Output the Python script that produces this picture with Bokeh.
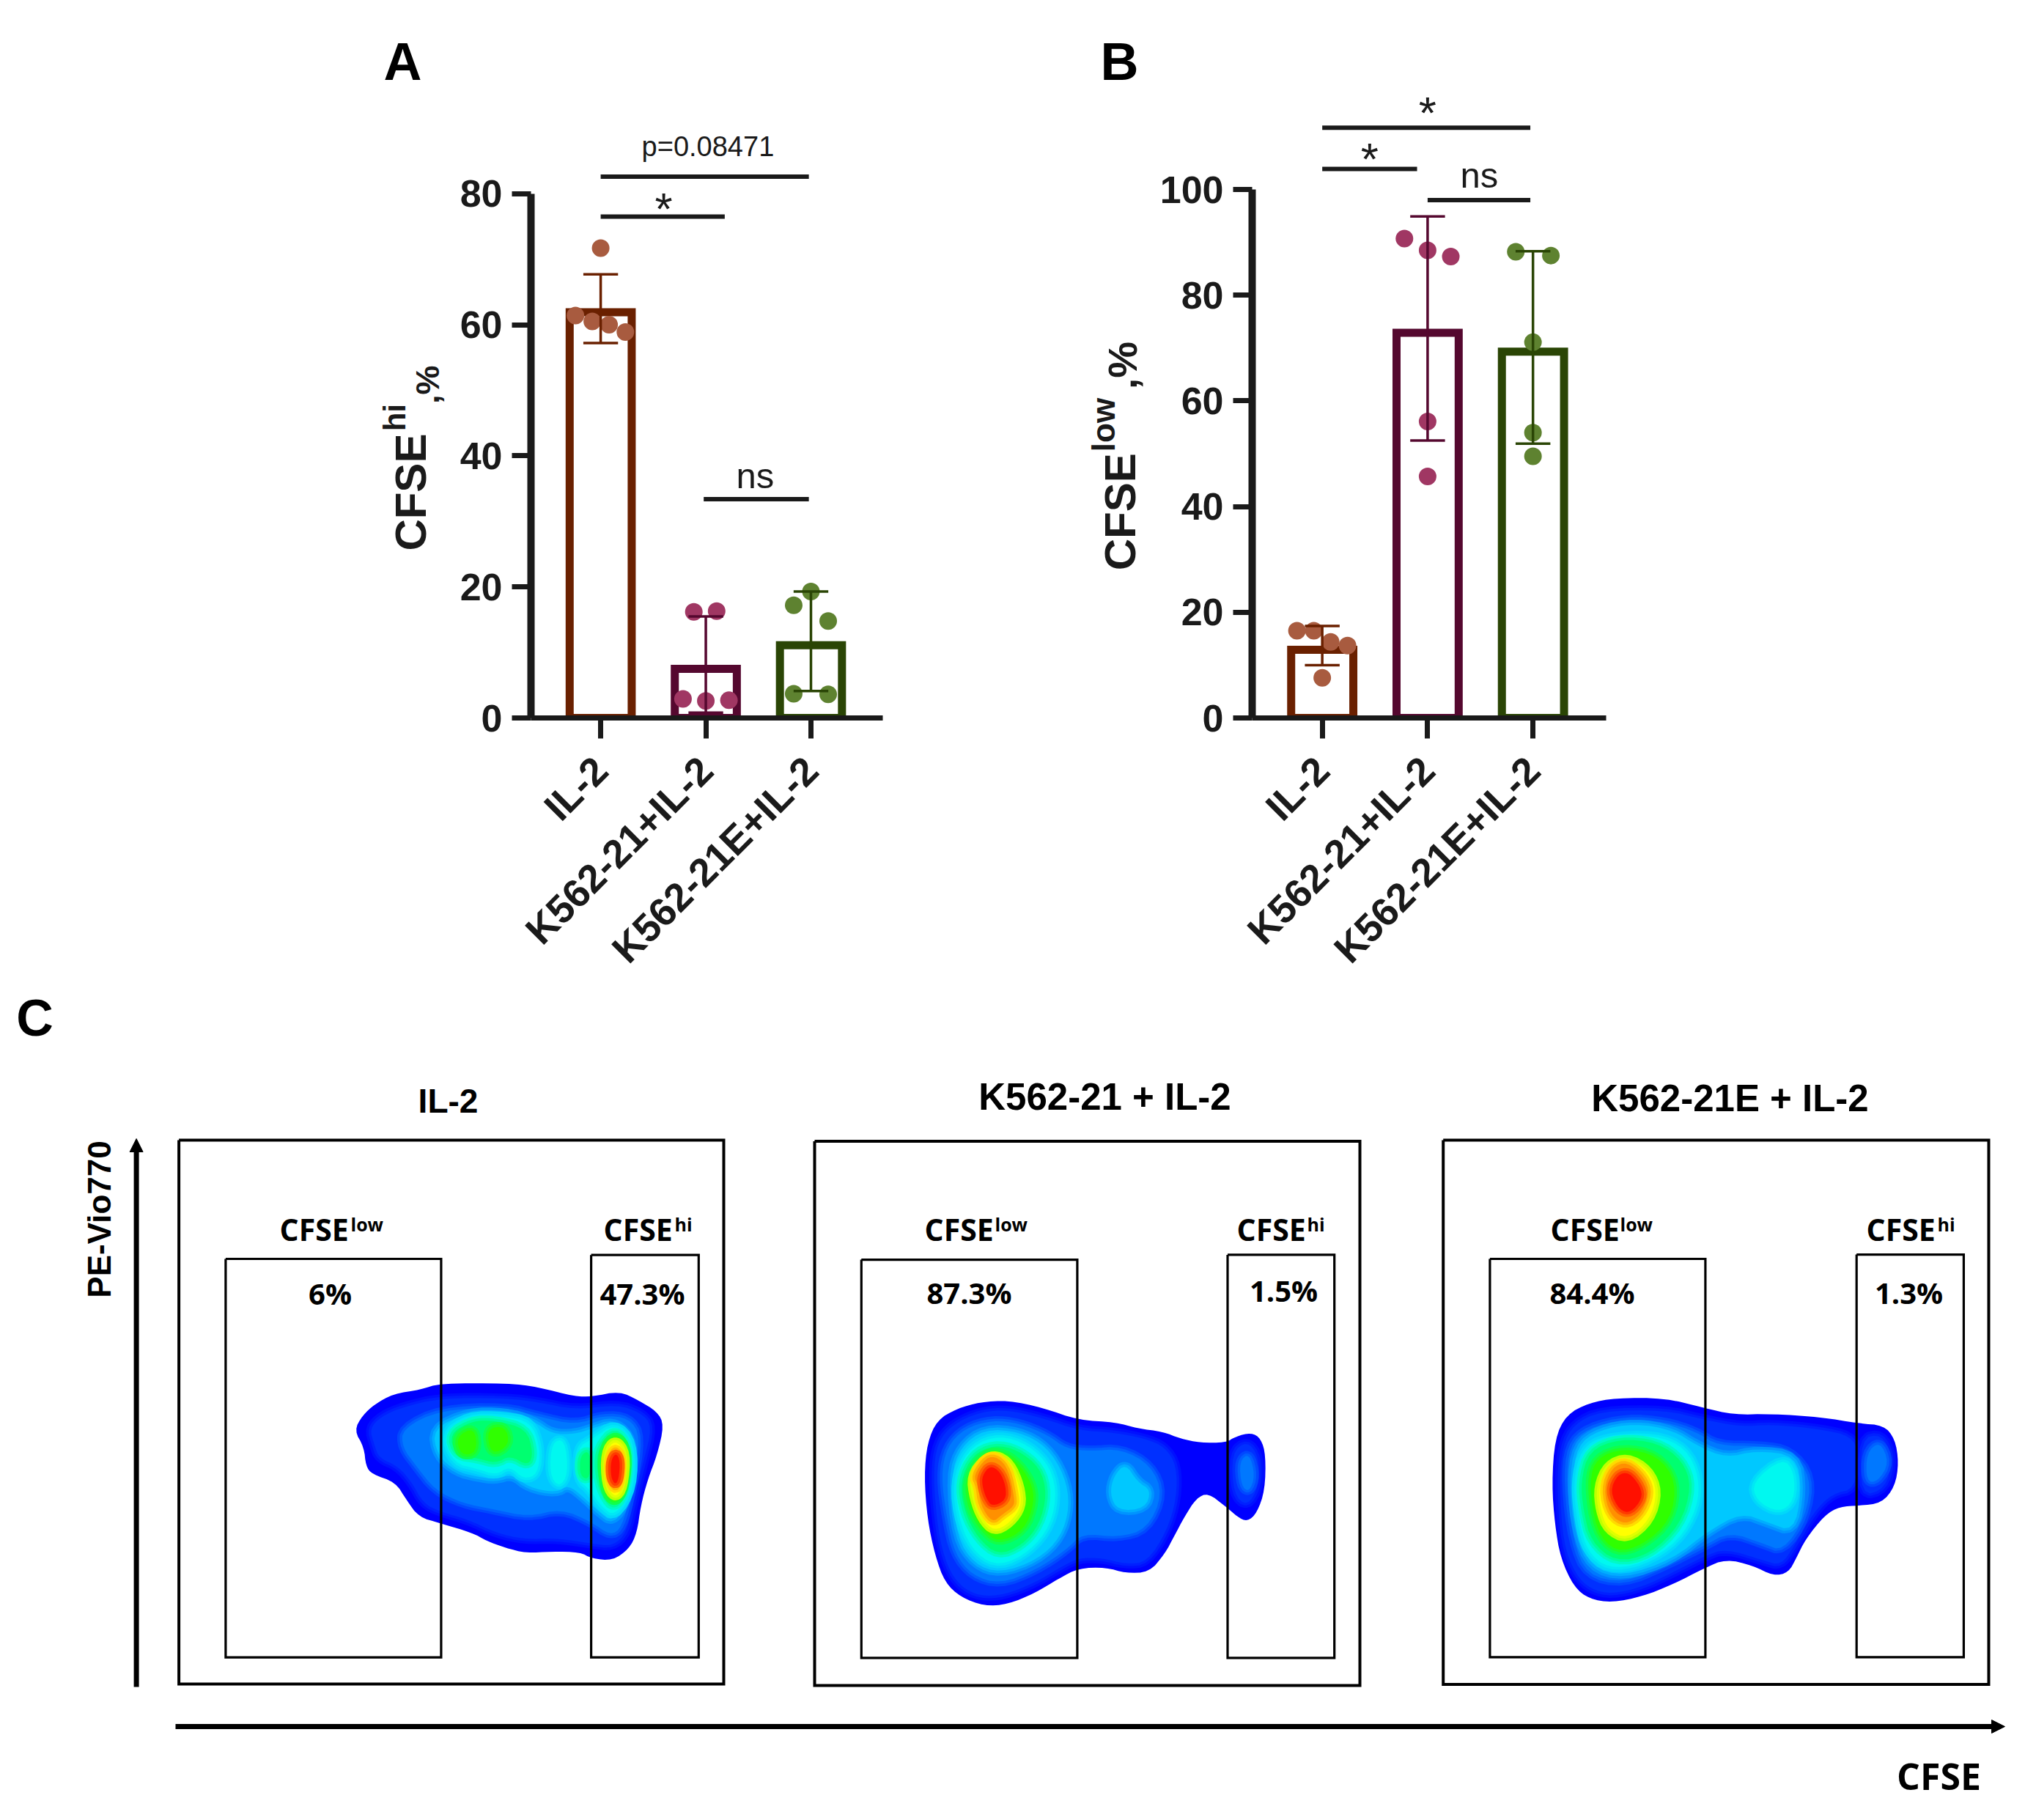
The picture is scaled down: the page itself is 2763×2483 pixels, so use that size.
from math import pi
from bokeh.plotting import figure
from bokeh.layouts import column, row
from bokeh.core.properties import value
from bokeh.models import Range1d, FixedTicker, Arrow, NormalHead
from bokeh.embed import file_html
from bokeh.resources import INLINE

# ---------- chart data ----------
GROUPS = ["IL-2", "K562-21+IL-2", "K562-21E+IL-2"]

A_MEAN = [61.9, 7.5, 11.1]
A_HIGH = [67.7, 15.5, 19.3]
A_LOW = [57.2, 0.8, 4.1]
A_DOT_GROUP = [1, 1, 1, 1, 1, 2, 2, 2, 2, 2, 3, 3, 3, 3, 3]
A_DOT_SHIFT = [0, -0.24, -0.08, 0.08, 0.235, -0.114, 0.103, -0.217, 0, 0.22, 0, -0.164, 0.164, -0.164, 0.164]
A_DOT_VALUE = [71.7, 61.4, 60.5, 60.0, 58.9, 16.2, 16.3, 2.9, 2.6, 2.7, 19.3, 17.2, 14.8, 3.7, 3.6]

B_MEAN = [12.9, 72.9, 69.3]
B_HIGH = [17.4, 94.9, 88.3]
B_LOW = [10.0, 52.5, 51.9]
B_DOT_GROUP = [1, 1, 1, 1, 1, 2, 2, 2, 2, 2, 3, 3, 3, 3, 3]
B_DOT_SHIFT = [-0.24, -0.08, 0.08, 0.24, 0, -0.22, 0, 0.22, 0, 0, -0.163, 0.17, 0, 0, 0]
B_DOT_VALUE = [16.5, 16.5, 14.4, 13.7, 7.6, 90.7, 88.5, 87.3, 56.1, 45.7, 88.2, 87.5, 71.1, 54.0, 49.5]

A_TICKS = [0, 20, 40, 60, 80]
B_TICKS = [0, 20, 40, 60, 80, 100]

A_BRACKETS = [(1, 2.98, 82.6), (1, 2.18, 76.5), (1.98, 2.98, 33.4)]
B_BRACKETS = [(1, 2.975, 111.7), (1, 1.9, 103.9), (2.0, 2.975, 98.0)]

# density contours of the flow plots: (density level, outline)
P1_CONTOURS = [
    (0, [(757,838),(775,810),(800,790),(840,770),(900,762),(940,750),(1085,750),(1150,757),(1230,775),(1265,775),(1325,765),(1365,782),(1405,803),(1420,828),(1405,885),(1385,930),(1370,980),(1362,1030),(1345,1060),(1310,1082),(1265,1078),(1240,1066),(1180,1065),(1125,1068),(1080,1058),(1040,1045),(1010,1030),(940,1012),(895,1000),(870,970),(845,935),(795,920),(782,905),(778,870)]),
    (1, [(790,835),(815,812),(860,795),(940,778),(1080,778),(1150,785),(1230,800),(1320,790),(1370,805),(1395,830),(1375,900),(1355,970),(1340,1030),(1310,1055),(1265,1050),(1190,1040),(1120,1042),(1060,1030),(1000,1005),(940,990),(905,975),(880,935),(850,905),(810,890),(800,865)]),
    (2, [(860,835),(940,800),(1080,795),(1150,812),(1230,828),(1290,810),(1345,815),(1370,850),(1350,950),(1330,1020),(1305,1035),(1265,1010),(1200,985),(1130,1000),(1050,985),(990,975),(930,950),(890,905),(860,870)]),
    (3, [(925,835),(1000,805),(1080,805),(1140,820),(1180,845),(1230,845),(1265,835),(1310,822),(1345,845),(1355,890),(1340,970),(1310,1010),(1280,990),(1250,965),(1215,940),(1190,955),(1130,945),(1095,920),(1060,930),(1020,925),(975,915),(935,885)]),
    (4, [(945,845),(1000,812),(1075,812),(1135,822),(1155,870),(1150,920),(1120,930),(1090,905),(1060,922),(1020,910),(970,900)]),
    (4, [(1180,860),(1208,855),(1215,920),(1195,945),(1175,920)]),
    (4, [(1235,870),(1265,855),(1315,825),(1352,860),(1352,945),(1315,1000),(1285,980),(1262,950),(1235,930)]),
    (5, [(960,845),(1010,820),(1060,820),(1125,835),(1140,880),(1130,905),(1090,885),(1060,900),(1020,890),(975,885)]),
    (5, [(1240,885),(1262,875),(1262,930),(1240,925)]),
    (5, [(1280,870),(1315,835),(1345,870),(1340,945),(1315,985),(1290,960),(1275,910)]),
    (6, [(975,850),(1015,832),(1020,880),(985,885)]),
    (6, [(1040,835),(1080,830),(1090,865),(1050,885)]),
    (6, [(1288,875),(1316,845),(1342,875),(1336,945),(1315,975),(1292,950)]),
    (8, [(1295,880),(1315,855),(1338,880),(1332,945),(1315,965),(1297,940)]),
    (9, [(1302,890),(1316,870),(1330,890),(1326,935),(1315,950),(1303,930)]),
    (10, [(1306,895),(1317,880),(1326,895),(1323,930),(1315,940),(1306,925)]),
]
P2_CONTOURS = [
    (0, [(337,985),(345,905),(370,850),(420,822),(480,806),(550,802),(640,820),(730,850),(825,855),(880,870),(945,878),(990,895),(1040,905),(1105,905),(1130,890),(1170,880),(1195,895),(1207,935),(1205,1020),(1185,1075),(1160,1097),(1135,1085),(1105,1060),(1060,1027),(1030,1040),(1000,1085),(975,1130),(950,1175),(910,1220),(850,1222),(800,1208),(730,1210),(680,1235),(620,1270),(550,1298),(490,1302),(430,1280),(390,1245),(365,1180),(345,1090)]),
    (1, [(360,985),(370,905),(410,860),(480,830),(550,825),(640,845),(730,875),(820,880),(900,895),(950,915),(980,960),(980,1040),(955,1120),(905,1195),(850,1200),(790,1185),(730,1185),(680,1210),(620,1245),(540,1275),(480,1278),(430,1255),(395,1205),(372,1120)]),
    (1, [(1120,930),(1160,900),(1190,940),(1190,1010),(1160,1060),(1125,1030)]),
    (2, [(380,985),(395,915),(440,870),(510,850),(580,858),(650,885),(700,920),(760,925),(840,920),(915,960),(945,1030),(905,1115),(830,1135),(740,1125),(700,1165),(620,1215),(530,1248),(460,1228),(415,1175),(395,1090)]),
    (2, [(1140,950),(1165,930),(1180,985),(1165,1025),(1145,1010)]),
    (3, [(405,985),(430,915),(490,872),(580,878),(650,915),(695,985),(708,1060),(685,1135),(625,1190),(530,1222),(465,1200),(420,1135)]),
    (3, [(820,985),(850,955),(880,1000),(915,1020),(900,1065),(830,1070),(810,1030)]),
    (4, [(415,1000),(445,925),(510,888),(585,900),(650,950),(675,1020),(660,1105),(605,1170),(530,1205),(470,1178),(428,1105)]),
    (5, [(428,1000),(460,935),(515,910),(575,922),(632,965),(650,1030),(630,1105),(585,1155),(525,1178),(475,1138),(440,1075)]),
    (6, [(445,1000),(478,945),(515,925),(568,945),(610,1000),(618,1050),(592,1118),(525,1148),(485,1115),(455,1065)]),
    (8, [(458,985),(490,945),(520,935),(555,955),(580,1010),(585,1060),(555,1100),(515,1120),(485,1090),(465,1040)]),
    (9, [(462,985),(495,940),(525,940),(552,970),(567,1040),(565,1060),(535,1080),(510,1100),(480,1055),(475,1010)]),
    (10, [(485,985),(505,960),(530,975),(545,1010),(545,1045),(510,1060),(495,1040),(485,1010)]),
]
P3_CONTOURS = [
    (0, [(322,865),(330,770),(360,720),(420,695),(490,685),(620,685),(720,705),(800,720),(900,718),(1030,725),(1130,738),(1195,742),(1225,770),(1235,820),(1225,870),(1190,905),(1130,910),(1080,912),(1040,930),(990,980),(965,1020),(945,1050),(905,1057),(850,1035),(780,1022),(725,1040),(640,1075),(560,1100),(480,1113),(420,1105),(380,1080),(345,1020),(330,950)]),
    (1, [(342,865),(350,785),(380,740),(450,712),(620,710),(720,730),(820,745),(900,740),(1030,750),(1110,765),(1130,800),(1120,875),(1060,885),(1010,925),(960,995),(925,1035),(880,1025),(780,1000),(725,1015),(640,1050),(560,1080),(480,1095),(425,1085),(385,1055),(352,990)]),
    (1, [(1135,770),(1190,760),(1220,810),(1200,875),(1135,890)]),
    (2, [(360,865),(368,785),(415,748),(520,728),(620,735),(700,755),(760,785),(870,785),(950,795),(1005,850),(990,935),(930,1005),(880,990),(790,965),(720,995),(620,1035),(510,1072),(415,1055),(378,985)]),
    (2, [(1150,800),(1185,775),(1210,820),(1180,860),(1150,860)]),
    (3, [(375,865),(388,785),(445,752),(540,738),(640,752),(705,785),(780,810),(860,795),(965,805),(980,880),(958,965),(890,945),(820,925),(730,965),(640,1022),(510,1058),(425,1038),(388,965)]),
    (4, [(385,860),(405,795),(460,768),(595,762),(675,790),(710,850),(705,915),(655,985),(560,1032),(470,1042),(415,1005),(395,945)]),
    (4, [(850,860),(930,810),(960,840),(960,900),(920,925),(860,900)]),
    (5, [(398,860),(420,795),(500,770),(600,778),(665,815),(690,870),(660,950),(580,1012),(490,1028),(425,985),(405,920)]),
    (6, [(420,860),(440,810),(510,790),(600,805),(650,860),(635,940),(562,992),(490,1008),(438,962)]),
    (8, [(445,870),(470,825),(520,810),(575,835),(600,880),(580,940),(520,980),(470,960),(450,920)]),
    (9, [(458,875),(480,830),(520,818),(565,850),(580,885),(555,930),(515,950),(475,930)]),
    (10, [(475,880),(495,845),(525,840),(555,870),(560,895),(530,925),(500,920)]),
]
LEVEL_COLOURS = ["#0000ff", "#0030ff", "#0078ff", "#00c8ff", "#00f8f0", "#00ff70",
                 "#30ff00", "#a0ff00", "#ffff00", "#ff9000", "#ff1000"]

# ---------- styles ----------
SANS = "Liberation Sans"
OPEN = "Open Sans"
INK = "#1a1a1a"
BAR_COLOURS = ["#6a2000", "#55082f", "#2a4505"]
DOT_COLOURS = ["#a85b3f", "#a03763", "#5e8230"]
MID = 0.35  # height of the text-box middle above the baseline, in font sizes


def lab(p, x, y, s, size, font=SANS, style="bold", color=INK, align="left", angle=0, upp=-1.0):
    """x, y: text anchor on the baseline; upp: pixels per data unit of y (negative when y runs down)."""
    if angle:
        x = x - MID * size
        align = "center"
    else:
        y = y + MID * size / upp
    p.text(x=[x], y=[y], text=[s], text_font=value(font), text_font_size=f"{size}px",
           text_font_style=style, text_color=color, text_align=align, text_baseline="middle", angle=angle)


def blank(width, height, xr, yr):
    p = figure(width=width, height=height, output_backend="svg", toolbar_location=None,
               x_range=Range1d(*xr), y_range=Range1d(*yr), min_border=0,
               x_axis_location=None, y_axis_location=None)
    p.grid.visible = False
    p.outline_line_color = None
    p.background_fill_color = "white"
    p.border_fill_color = "white"
    return p


def bar_chart(width, height, left, right, top, bottom, xr, yr, ticks, mean, high, low,
              dgroup, dshift, dvalue, brackets):
    p = figure(width=width, height=height, output_backend="svg", toolbar_location=None,
               x_range=Range1d(*xr), y_range=Range1d(*yr),
               min_border_left=left, min_border_right=right, min_border_top=top, min_border_bottom=bottom)
    p.grid.visible = False
    p.outline_line_color = None
    p.background_fill_color = "white"
    p.border_fill_color = "white"
    xs = [1, 2, 3]
    p.vbar(x=xs, top=mean, bottom=0, width=0.59, fill_color="white", line_color=BAR_COLOURS, line_width=11,
           line_join="miter")
    dot_x = [g + s for g, s in zip(dgroup, dshift)]
    p.scatter(dot_x, dvalue, size=24, color=[DOT_COLOURS[g - 1] for g in dgroup], line_color=None)
    p.segment(xs, low, xs, high, color=BAR_COLOURS, line_width=3.5)
    for xv, lo, hi, c in zip(xs, low, high, BAR_COLOURS):
        p.segment([xv - 0.165, xv - 0.165], [lo, hi], [xv + 0.165, xv + 0.165], [lo, hi], color=c, line_width=3.5)
    for b in brackets:
        p.line([b[0], b[1]], [b[2], b[2]], color=INK, line_width=6, line_cap="butt")

    ax = p.yaxis[0]
    ax.ticker = FixedTicker(ticks=ticks)
    ax.bounds = (ticks[0], ticks[-1])
    ax.axis_line_color = INK
    ax.axis_line_width = 10
    ax.major_tick_line_color = INK
    ax.major_tick_line_width = 7
    ax.major_tick_in = 0
    ax.major_tick_out = 26
    ax.minor_tick_line_color = None
    ax.major_label_text_font = SANS
    ax.major_label_text_font_style = "bold"
    ax.major_label_text_font_size = "52px"
    ax.major_label_text_color = INK
    ax.major_label_standoff = 13

    ax = p.xaxis[0]
    ax.ticker = FixedTicker(ticks=xs)
    ax.major_label_overrides = {i + 1: g for i, g in enumerate(GROUPS)}
    ax.bounds = (xr[0], xr[1])
    ax.axis_line_color = INK
    ax.axis_line_width = 7
    ax.major_tick_line_color = INK
    ax.major_tick_line_width = 7
    ax.major_tick_in = 0
    ax.major_tick_out = 28
    ax.minor_tick_line_color = None
    ax.major_label_orientation = pi / 4
    ax.major_label_text_font = SANS
    ax.major_label_text_font_style = "bold"
    ax.major_label_text_font_size = "54px"
    ax.major_label_text_color = INK
    ax.major_label_standoff = 34
    return p


# page positions
ROW_H = 1350
L1_W, A_W, L2_W, B_W = 620, 820, 130, 1185
AX, AR, A0, A80 = 724.0, 1203.5, 980.0, 264.0
BX, BR, B0, B100 = 1708.0, 2190.8, 979.0, 258.0
FRAME_TOP = 30.0
apx = (A0 - A80) / 80
bpx = (B0 - B100) / 100
a_unit = 143.3
b_unit = 143.7
A_LEFT = L1_W
B_LEFT = L1_W + A_W + L2_W

pa = bar_chart(A_W, ROW_H, round(AX - A_LEFT), round(A_LEFT + A_W - AR), int(FRAME_TOP), round(ROW_H - A0),
               (1 - (819 - AX) / a_unit, 1 + (AR - 819) / a_unit), (0, (A0 - FRAME_TOP) / apx), A_TICKS,
               A_MEAN, A_HIGH, A_LOW, A_DOT_GROUP, A_DOT_SHIFT, A_DOT_VALUE, A_BRACKETS)
pb = bar_chart(B_W, ROW_H, round(BX - B_LEFT), round(B_LEFT + B_W - BR), int(FRAME_TOP), round(ROW_H - B0),
               (1 - (1803.6 - BX) / b_unit, 1 + (BR - 1803.6) / b_unit), (0, (B0 - FRAME_TOP) / bpx), B_TICKS,
               B_MEAN, B_HIGH, B_LOW, B_DOT_GROUP, B_DOT_SHIFT, B_DOT_VALUE, B_BRACKETS)

lab(pa, 2.02, 85.7, "p=0.08471", 38, style="normal", align="center", upp=apx)
lab(pa, 1.6, 75.3, "*", 62, style="normal", align="center", upp=apx)
lab(pa, 2.47, 35.1, "ns", 49, style="normal", align="center", upp=apx)

lab(pb, 2.0, 111.6, "*", 62, style="normal", align="center", upp=bpx)
lab(pb, 1.45, 102.8, "*", 62, style="normal", align="center", upp=bpx)
lab(pb, 2.49, 100.3, "ns", 49, style="normal", align="center", upp=bpx)

# side strips holding the panel letters and the y titles, in page pixels
s1 = blank(L1_W, ROW_H, (0, L1_W), (ROW_H, 0))
lab(s1, 549, 101, "A", 72, align="center", color="black")
lab(s1, 581, 912, "CFSE", 60, angle=pi / 2)
lab(s1, 553, 767, "hi", 42, angle=pi / 2)
lab(s1, 599, 703, ",%", 45, angle=pi / 2)

s2 = blank(L2_W, ROW_H, (L1_W + A_W, L1_W + A_W + L2_W), (ROW_H, 0))
lab(s2, 1527, 101, "B", 72, align="center", color="black")
lab(s2, 1548.5, 950, "CFSE", 60, angle=pi / 2)
lab(s2, 1520, 781, "low", 44, angle=pi / 2)
lab(s2, 1550.5, 666, ",%", 56, angle=pi / 2)

# ---------- panel C ----------
C_TOP, C_W = ROW_H, L1_W + A_W + L2_W + B_W
C_H = 2475 - ROW_H
pc = blank(C_W, C_H, (0, C_W), (C_TOP + C_H, C_TOP))


def chaikin(pts, n=2):
    for _ in range(n):
        out = []
        for i, a in enumerate(pts):
            b = pts[(i + 1) % len(pts)]
            out.append((0.75 * a[0] + 0.25 * b[0], 0.75 * a[1] + 0.25 * b[1]))
            out.append((0.25 * a[0] + 0.75 * b[0], 0.25 * a[1] + 0.75 * b[1]))
        pts = out
    return pts


def blend(c1, c2, t):
    a = [int(c1[i:i + 2], 16) for i in (1, 3, 5)]
    b = [int(c2[i:i + 2], 16) for i in (1, 3, 5)]
    return "#%02x%02x%02x" % tuple(round(u + (v - u) * t) for u, v in zip(a, b))


# per panel: crop origin and read-out scale of the outlines
PANELS = [
    (P1_CONTOURS, 0, 1340, 1.568, 1.372),
    (P2_CONTOURS, 1080, 1460, 1.867, 1.782),
    (P3_CONTOURS, 1950, 1460, 1.929, 1.533),
]
for contours, ox, oy, sx, sy in PANELS:
    for level, pts in contours:
        sm = chaikin(pts)
        px = [ox + a / sx for a, _ in sm]
        py = [oy + b / sy for _, b in sm]
        col = LEVEL_COLOURS[level]
        if level > 0:
            prev = LEVEL_COLOURS[level - 1]
            pc.patch(px, py, fill_color=None, line_color=blend(prev, col, 1 / 3), line_width=14)
            pc.patch(px, py, fill_color=None, line_color=blend(prev, col, 2 / 3), line_width=7)
        pc.patch(px, py, fill_color=col, line_color=None)

BOXES = [(243.6, 987, 1555, 2297), (1111, 1855, 1556.5, 2299), (1968.7, 2713, 1555, 2297.6)]
GATES = [
    (307.4, 601.4, 1717, 2260.6), (806.1, 952.8, 1711.7, 2260.6),
    (1174.8, 1469.4, 1718.1, 2261.4), (1674.5, 1820.2, 1711.4, 2261.4),
    (2032.4, 2326.4, 1717, 2260.4), (2532.7, 2678.9, 1711.1, 2260.4),
]


def rect(x0, x1, y0, y1, w):
    pc.line([x0, x1, x1, x0, x0], [y0, y0, y1, y1, y0], color="black", line_width=w, line_join="miter")


for b in BOXES:
    rect(*b, 4)
for g in GATES:
    rect(*g, 3.2)

pc.add_layout(Arrow(end=NormalHead(size=18, fill_color="black", line_color="black", line_width=1),
                    x_start=185.6, y_start=2301, x_end=185.6, y_end=1553, line_width=7, line_color="black"))
pc.add_layout(Arrow(end=NormalHead(size=18, fill_color="black", line_color="black", line_width=1),
                    x_start=239, y_start=2355, x_end=2735, y_end=2355, line_width=7, line_color="black"))

lab(pc, 47, 1413, "C", 70, align="center", color="black")
lab(pc, 611, 1518, "IL-2", 46, align="center", color="black")
lab(pc, 1507, 1514, "K562-21 + IL-2", 51, align="center", color="black")
lab(pc, 2360, 1516, "K562-21E + IL-2", 51, align="center", color="black")
lab(pc, 150, 1663, "PE-Vio770", 44, color="black", angle=pi / 2)
lab(pc, 2645, 2440, "CFSE", 50, font=OPEN, align="center", color="black")

for xl, xs_, xh, xhs in [(381, 478, 823, 920), (1261, 1357, 1687, 1783), (2115, 2210, 2546, 2643)]:
    lab(pc, xl, 1690.5, "CFSE", 41, font=OPEN, color="black")
    lab(pc, xs_, 1678, "low", 25, font=OPEN, color="black")
    lab(pc, xh, 1690.5, "CFSE", 41, font=OPEN, color="black")
    lab(pc, xhs, 1678, "hi", 25, font=OPEN, color="black")

for x, y, s in [(450, 1778, "6%"), (876, 1778, "47.3%"), (1322, 1777, "87.3%"), (1751, 1774, "1.5%"),
                (2172, 1777, "84.4%"), (2604, 1777, "1.3%")]:
    lab(pc, x, y, s, 40, font=OPEN, align="center", color="black")

page = column(row(s1, pa, s2, pb), pc)
open("out.html", "w").write(file_html(page, INLINE))
